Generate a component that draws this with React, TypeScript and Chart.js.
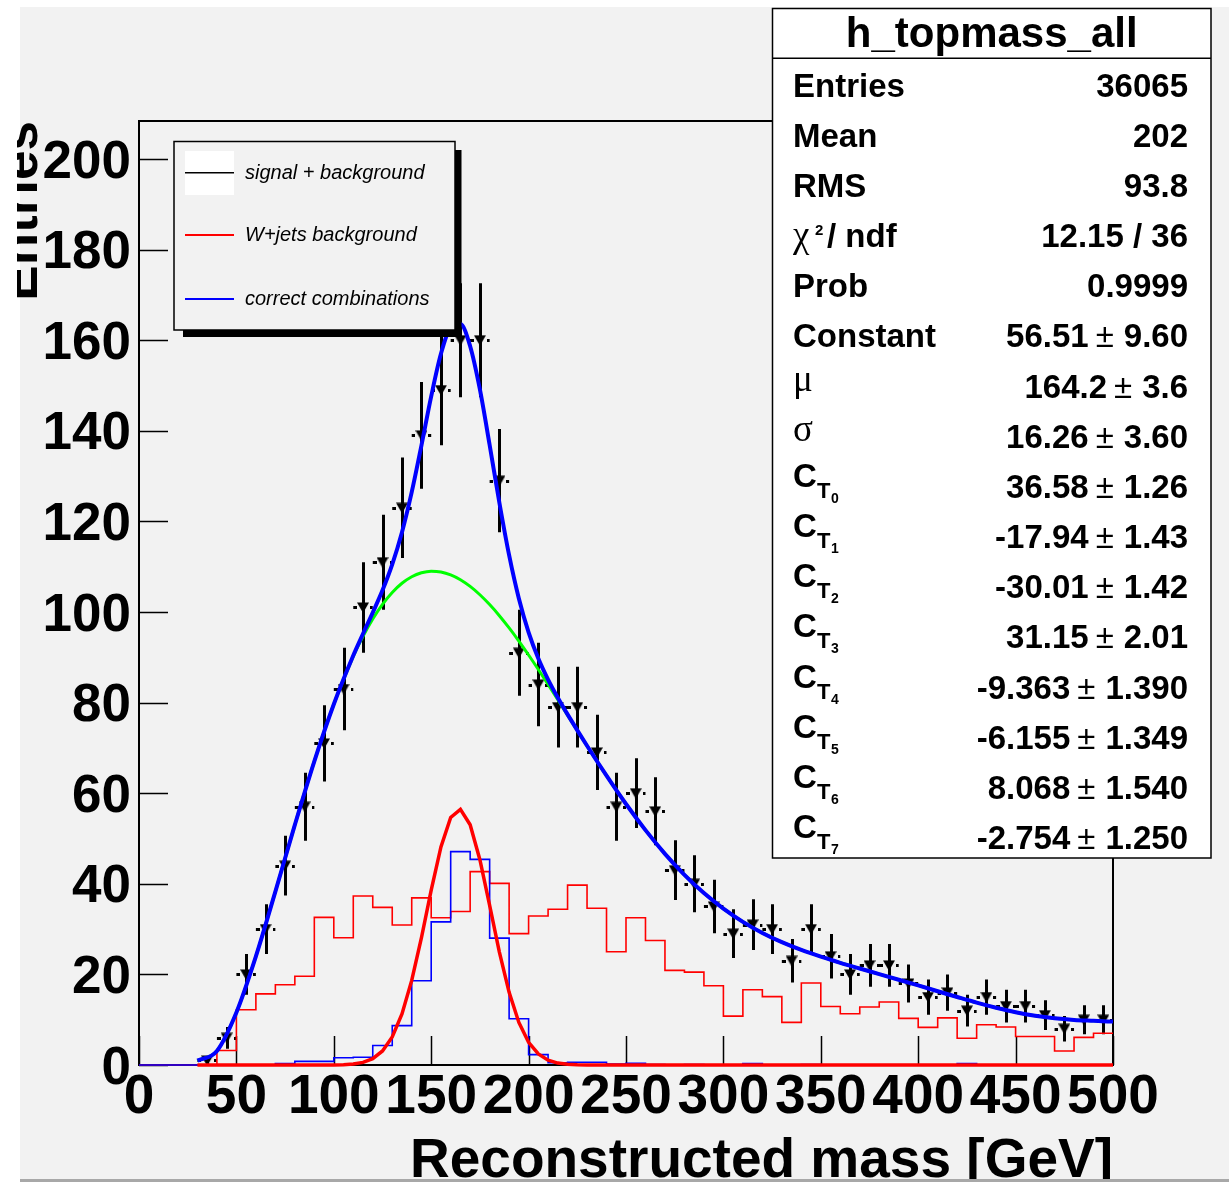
import React, { useEffect, useRef } from "react";
import { Chart, registerables } from "chart.js";

Chart.register(...registerables);

const CANVAS_W = 1229;
const CANVAS_H = 1182;
const PAD_COLOR = "#f2f2f2";

// ---------------- data ----------------
const binEdges = [
  0, 10, 20, 30, 40, 50, 60, 70, 80, 90, 100, 110, 120, 130, 140, 150, 160, 170, 180, 190,
  200, 210, 220, 230, 240, 250, 260, 270, 280, 290, 300, 310, 320, 330, 340, 350, 360, 370,
  380, 390, 400, 410, 420, 430, 440, 450, 460, 470, 480, 490, 500,
];

// W+jets background histogram (red)
const wjetsBackground = [
  0, 0, 0, 0, 3.2, 12.2, 15.7, 17.7, 19.6, 32.6,
  28.1, 37.3, 34.8, 30.9, 36.9, 32.5, 33.9, 42.7, 40.1, 29.0,
  32.9, 34.4, 39.7, 34.6, 25.0, 32.5, 27.5, 20.9, 20.5, 17.5,
  10.8, 16.6, 15.1, 9.4, 18.1, 12.9, 11.3, 12.8, 13.9, 10.3,
  8.3, 10.4, 5.9, 8.9, 8.4, 6.3, 6.3, 3.1, 6.1, 7.0,
];

// correct combinations histogram (blue)
const correctCombinations = [
  0, 0, 0, 0, 0, 0, 0, 0.3, 0.8, 0.8,
  1.6, 1.7, 4.3, 8.7, 18.6, 31.6, 47.1, 45.4, 28.0, 10.2,
  2.3, 0.5, 0.6, 0.6, 0.2, 0.4, 0.1, 0, 0.1, 0,
  0, 0.3, 0, 0, 0.1, 0, 0, 0, 0, 0,
  0, 0, 0.3, 0, 0, 0, 0, 0, 0, 0,
];

// signal + background data points
const dataBinCenters = [
  35, 45, 55, 65, 75, 85, 95, 105, 115, 125, 135, 145, 155, 165, 175, 185, 195, 205, 215, 225,
  235, 245, 255, 265, 275, 285, 295, 305, 315, 325, 335, 345, 355, 365, 375, 385, 395, 405,
  415, 425, 435, 445, 455, 465, 475, 485, 495,
];
const dataEntries = [
  1, 6, 20, 30, 44, 57, 71, 83, 101, 111, 123, 139, 149, 160, 160, 129, 91, 84, 79, 79,
  69, 57, 60, 56, 43, 40, 35, 29, 31, 30, 23, 30, 24, 20, 22, 22, 18, 15,
  16, 12, 15, 13, 13, 11, 8, 10, 10,
];
const dataErrors = [
  1.0, 2.4, 4.5, 5.5, 6.6, 7.5, 8.4, 9.1, 10.0, 10.5, 11.1, 11.8, 12.2, 12.6, 12.6, 11.4, 9.5, 9.2, 8.9, 8.9,
  8.3, 7.5, 7.7, 7.5, 6.6, 6.3, 5.9, 5.4, 5.6, 5.5, 4.8, 5.5, 4.9, 4.5, 4.7, 4.7, 4.2, 3.9,
  4.0, 3.5, 3.9, 3.6, 3.6, 3.3, 2.8, 3.2, 3.2,
];

// fit curves (total = blue, background = green)
const fitX = [
  30, 40, 50, 60, 70, 80, 90, 100, 110,
  115, 120, 125, 130, 135, 140, 145, 150, 155, 160, 165, 170, 175, 180, 185, 190, 195, 200, 205, 210, 215,
  220, 230, 240, 250, 260, 270, 280, 290, 300, 310, 320, 330, 340, 350, 360, 370, 380, 390, 400,
  410, 420, 430, 440, 450, 460, 470, 480, 490, 500,
];
const fitTotal = [
  0.97, 3.11, 11.6, 23.97, 38.27, 53.01, 67.05, 79.65, 90.41,
  95.2, 99.87, 104.78, 110.51, 117.61, 126.46, 136.81, 147.61, 157.0, 162.87, 163.58, 158.68, 149.13,
  136.88, 124.12, 112.54, 102.99, 95.52, 89.74, 85.08, 81.07,
  77.4, 70.47, 63.87, 57.62, 51.85, 46.62, 41.98, 37.95, 34.51, 31.6, 29.16, 27.12, 25.4, 23.91,
  22.56, 21.3, 20.07, 18.83, 17.57, 16.28, 15.01, 13.77, 12.64, 11.65, 10.86, 10.3, 9.95, 9.76, 9.58,
];
const fitBackground = [
  0.97, 3.11, 11.6, 23.97, 38.27, 53.01, 67.05, 79.62, 90.19,
  94.62, 98.46, 101.69, 104.32, 106.35, 107.79, 108.67, 109.02, 108.85, 108.21, 107.14, 105.65, 103.81,
  101.64, 99.19, 96.49, 93.59, 90.51, 87.31, 84.01, 80.64,
  77.24, 70.46, 63.87, 57.62, 51.85, 46.62, 41.98, 37.95, 34.51, 31.6, 29.16, 27.12, 25.4, 23.91,
  22.56, 21.3, 20.07, 18.83, 17.57, 16.28, 15.01, 13.77, 12.64, 11.65, 10.86, 10.3, 9.95, 9.76, 9.58,
];

// gaussian signal curve (red)
const gaussX = [
  30, 95, 100, 105, 110, 115, 120, 125, 130, 135, 140, 145, 150, 155, 160, 165, 170, 175, 180,
  185, 190, 195, 200, 205, 210, 215, 220, 225, 230, 240, 500,
];
const gaussSignal = [
  0, 0, 0.02, 0.07, 0.22, 0.58, 1.41, 3.09, 6.19, 11.26, 18.67, 28.14, 38.59, 48.15, 54.66, 56.44,
  53.03, 45.32, 35.24, 24.93, 16.05, 9.4, 5.01, 2.43, 1.07, 0.43, 0.16, 0.05, 0.01, 0, 0,
];

const legendLabels = ["signal + background", "W+jets background", "correct combinations"];
const legendColors = ["#000000", "#ff0000", "#0000ff"];

const statsTitle = "h_topmass_all";
const statLabels = [
  "Entries", "Mean", "RMS", "χ2 / ndf", "Prob", "Constant", "μ", "σ",
  "C_T0", "C_T1", "C_T2", "C_T3", "C_T4", "C_T5", "C_T6", "C_T7",
];
const statValues = [
  "36065", "202", "93.8", "12.15 / 36", "0.9999", "56.51 ± 9.60", "164.2 ± 3.6", "16.26 ± 3.60",
  "36.58 ± 1.26", "-17.94 ± 1.43", "-30.01 ± 1.42", "31.15 ± 2.01", "-9.363 ± 1.390",
  "-6.155 ± 1.349", "8.068 ± 1.540", "-2.754 ± 1.250",
];

const xAxisTitle = "Reconstructed mass [GeV]";
const yAxisTitle = "Entries";

// ---------------- helpers ----------------
const SANS = "'Liberation Sans', Arial, Helvetica, sans-serif";
const SERIF = "'Liberation Serif', 'Times New Roman', serif";

function histPoints(values: number[]) {
  const pts = values.map((v, i) => ({ x: binEdges[i], y: v }));
  pts.push({ x: binEdges[values.length], y: values[values.length - 1] });
  return pts;
}

function makeTriangle(): HTMLCanvasElement {
  const c = document.createElement("canvas");
  c.width = 12;
  c.height = 11;
  const g = c.getContext("2d")!;
  g.fillStyle = "#000";
  g.beginPath();
  g.moveTo(0, 0.5);
  g.lineTo(12, 0.5);
  g.lineTo(6, 11);
  g.closePath();
  g.fill();
  return c;
}

function drawStatLabel(ctx: CanvasRenderingContext2D, lab: string, x: number, b: number) {
  ctx.textAlign = "left";
  ctx.textBaseline = "alphabetic";
  if (lab.startsWith("χ")) {
    ctx.font = `37px ${SERIF}`;
    ctx.fillText("χ", x, b);
    ctx.font = `bold 15px ${SANS}`;
    ctx.fillText("2", x + 22, b - 12);
    ctx.font = `bold 33px ${SANS}`;
    ctx.fillText(lab.slice(3), x + 34, b);
  } else if (lab === "μ" || lab === "σ") {
    ctx.font = `37px ${SERIF}`;
    ctx.fillText(lab, x, b - 7);
  } else if (lab.startsWith("C_T")) {
    ctx.font = `bold 33px ${SANS}`;
    ctx.fillText("C", x, b - 11);
    ctx.font = `bold 22px ${SANS}`;
    ctx.fillText("T", x + 24, b);
    ctx.font = `bold 14px ${SANS}`;
    ctx.fillText(lab.slice(3), x + 38, b + 5);
  } else {
    ctx.font = `bold 33px ${SANS}`;
    ctx.fillText(lab, x, b);
  }
}

function drawStatValue(ctx: CanvasRenderingContext2D, val: string, right: number, b: number) {
  ctx.textAlign = "left";
  ctx.textBaseline = "alphabetic";
  if (val.includes("±")) {
    const [a, c] = val.split("±").map((s) => s.trim());
    ctx.font = `bold 33px ${SANS}`;
    const wc = ctx.measureText(c).width;
    ctx.fillText(c, right - wc, b);
    ctx.font = `33px ${SANS}`;
    const wpm = ctx.measureText("±").width;
    const pmX = right - wc - 10 - wpm;
    ctx.fillText("±", pmX, b);
    ctx.font = `bold 33px ${SANS}`;
    const wa = ctx.measureText(a).width;
    ctx.fillText(a, pmX - 7 - wa, b);
  } else {
    ctx.font = `bold 33px ${SANS}`;
    const w = ctx.measureText(val).width;
    ctx.fillText(val, right - w, b);
  }
}

const DATA_INDEX = 0;

const rootPlugin = {
  id: "rootStyle",
  beforeDraw(chart: any) {
    const ctx: CanvasRenderingContext2D = chart.ctx;
    ctx.save();
    ctx.fillStyle = "#ffffff";
    ctx.fillRect(0, 0, CANVAS_W, CANVAS_H);
    ctx.fillStyle = PAD_COLOR;
    ctx.fillRect(20, 7, CANVAS_W - 20, 1172);
    ctx.restore();
  },
  beforeDatasetsDraw(chart: any) {
    const ctx: CanvasRenderingContext2D = chart.ctx;
    const a = chart.chartArea;
    const xs = chart.scales.x;
    const ys = chart.scales.y;
    ctx.save();
    ctx.strokeStyle = "#000";
    ctx.lineWidth = 1.5;
    ctx.beginPath();
    ys.ticks.forEach((t: any) => {
      const y = Math.round(ys.getPixelForValue(t.value)) + 0.5;
      ctx.moveTo(a.left, y);
      ctx.lineTo(a.left + 29, y);
    });
    xs.ticks.forEach((t: any) => {
      const x = Math.round(xs.getPixelForValue(t.value)) + 0.5;
      ctx.moveTo(x, a.bottom);
      ctx.lineTo(x, a.bottom - 29);
    });
    ctx.stroke();
    ctx.lineWidth = 2;
    ctx.strokeRect(a.left, a.top, a.right - a.left, a.bottom - a.top);
    ctx.restore();
  },
  beforeDatasetDraw(chart: any, args: any) {
    if (args.index !== DATA_INDEX) return;
    const ctx: CanvasRenderingContext2D = chart.ctx;
    const xs = chart.scales.x;
    const ys = chart.scales.y;
    ctx.save();
    ctx.strokeStyle = "#000";
    ctx.lineWidth = 3;
    ctx.beginPath();
    dataBinCenters.forEach((xv, i) => {
      const v = dataEntries[i];
      const e = dataErrors[i];
      const px = Math.round(xs.getPixelForValue(xv)) + 0.5;
      const py = Math.round(ys.getPixelForValue(v)) + 0.5;
      ctx.moveTo(px, ys.getPixelForValue(v + e));
      ctx.lineTo(px, ys.getPixelForValue(Math.max(v - e, 0)));
      const xl = xs.getPixelForValue(xv - 5);
      const xr = xs.getPixelForValue(xv + 5);
      ctx.moveTo(xl, py);
      ctx.lineTo(px - 6.5, py);
      ctx.moveTo(px + 6.5, py);
      ctx.lineTo(xr, py);
    });
    ctx.stroke();
    ctx.restore();
  },
  afterDraw(chart: any) {
    const ctx: CanvasRenderingContext2D = chart.ctx;
    const a = chart.chartArea;
    ctx.save();

    // y axis title (clipped on the left like the original)
    ctx.save();
    ctx.beginPath();
    ctx.rect(17, 0, CANVAS_W - 17, CANVAS_H);
    ctx.clip();
    ctx.translate(37, a.top);
    ctx.rotate(-Math.PI / 2);
    ctx.fillStyle = "#000";
    ctx.font = `bold 53px ${SANS}`;
    ctx.textAlign = "right";
    ctx.textBaseline = "alphabetic";
    ctx.fillText(yAxisTitle, 0, 0);
    ctx.restore();

    // x axis title, clipped at the pad bottom
    ctx.save();
    ctx.beginPath();
    ctx.rect(0, 0, CANVAS_W, 1179);
    ctx.clip();
    ctx.fillStyle = "#000";
    ctx.font = `bold 55px ${SANS}`;
    ctx.textAlign = "right";
    ctx.textBaseline = "alphabetic";
    ctx.fillText(xAxisTitle, a.right, 1177);
    ctx.restore();

    // pad bottom border
    ctx.fillStyle = "#a8a8a8";
    ctx.fillRect(20, 1179, CANVAS_W - 20, 3);

    // legend
    ctx.fillStyle = "#000";
    ctx.fillRect(455, 150, 6.5, 187);
    ctx.fillRect(183, 330, 278.5, 7);
    ctx.fillStyle = PAD_COLOR;
    ctx.fillRect(174, 141.5, 281, 188.5);
    ctx.strokeStyle = "#000";
    ctx.lineWidth = 1.5;
    ctx.strokeRect(174, 141.5, 281, 188.5);
    const legendY = [172.7, 235, 299];
    legendLabels.forEach((lab, i) => {
      const ly = legendY[i];
      if (i === 0) {
        ctx.fillStyle = "#ffffff";
        ctx.fillRect(185, 151, 49, 44);
      }
      ctx.strokeStyle = legendColors[i];
      ctx.lineWidth = i === 0 ? 1.5 : 2;
      ctx.beginPath();
      ctx.moveTo(185, ly);
      ctx.lineTo(234, ly);
      ctx.stroke();
      ctx.fillStyle = "#000";
      ctx.font = `italic 20px ${SANS}`;
      ctx.textAlign = "left";
      ctx.textBaseline = "alphabetic";
      ctx.fillText(lab, 245, ly + 6);
    });

    // stats box
    const L = 772.5, T = 8.5, R = 1211, B = 858;
    ctx.fillStyle = "#ffffff";
    ctx.fillRect(L, T, R - L, B - T);
    ctx.strokeStyle = "#000";
    ctx.lineWidth = 1.5;
    ctx.strokeRect(L, T, R - L, B - T);
    ctx.beginPath();
    ctx.moveTo(L, 58.3);
    ctx.lineTo(R, 58.3);
    ctx.stroke();
    ctx.fillStyle = "#000";
    ctx.font = `bold 42px ${SANS}`;
    ctx.textAlign = "center";
    ctx.textBaseline = "alphabetic";
    ctx.fillText(statsTitle, (L + R) / 2, 46.7);
    statLabels.forEach((lab, k) => {
      const b = 96.7 + k * 50.15;
      drawStatLabel(ctx, lab, 793, b);
      drawStatValue(ctx, statValues[k], 1188, b);
    });

    ctx.restore();
  },
};

export default function App() {
  const canvasRef = useRef<HTMLCanvasElement | null>(null);

  useEffect(() => {
    const canvas = canvasRef.current;
    if (!canvas) return;
    const tri = makeTriangle();
    const chart = new Chart(canvas, {
      type: "line",
      data: {
        datasets: [
          {
            type: "scatter",
            label: "signal + background",
            data: dataBinCenters.map((x, i) => ({ x, y: dataEntries[i] })),
            pointStyle: tri as any,
            pointRadius: 6,
            showLine: false,
            order: 6,
            clip: false as any,
          } as any,
          {
            label: "total fit",
            data: fitX.map((x, i) => ({ x, y: fitTotal[i] })),
            borderColor: "#0000ff",
            borderWidth: 4,
            pointRadius: 0,
            cubicInterpolationMode: "monotone",
            fill: false,
            order: 0,
            clip: false as any,
          },
          {
            label: "background fit",
            data: fitX.map((x, i) => ({ x, y: fitBackground[i] })),
            borderColor: "#00ff00",
            borderWidth: 3,
            pointRadius: 0,
            cubicInterpolationMode: "monotone",
            fill: false,
            order: 1,
            clip: false as any,
          },
          {
            label: "signal gaussian",
            data: gaussX.map((x, i) => ({ x, y: gaussSignal[i] })),
            borderColor: "#ff0000",
            borderWidth: 3.5,
            pointRadius: 0,
            tension: 0,
            fill: false,
            order: 2,
            clip: false as any,
          },
          {
            label: "correct combinations",
            data: histPoints(correctCombinations),
            borderColor: "#0000ff",
            borderWidth: 1.6,
            pointRadius: 0,
            stepped: "before",
            fill: false,
            order: 3,
            clip: false as any,
          },
          {
            label: "W+jets background",
            data: histPoints(wjetsBackground),
            borderColor: "#ff0000",
            borderWidth: 1.6,
            pointRadius: 0,
            stepped: "before",
            fill: false,
            order: 4,
            clip: false as any,
          },
        ],
      },
      options: {
        animation: false,
        responsive: false,
        devicePixelRatio: 1,
        events: [],
        layout: { padding: { left: 0, top: 121, right: 116, bottom: 0 } },
        plugins: {
          legend: { display: false },
          tooltip: { enabled: false },
          title: { display: false },
        },
        scales: {
          x: {
            type: "linear",
            min: 0,
            max: 500,
            grid: { display: false, drawTicks: false },
            border: { display: false },
            ticks: {
              stepSize: 50,
              autoSkip: false,
              maxRotation: 0,
              minRotation: 0,
              padding: 0,
              color: "#000",
              font: { family: "Liberation Sans", size: 55, weight: "bold" },
            },
            afterFit: (s: any) => {
              s.height = 117;
            },
          },
          y: {
            type: "linear",
            min: 0,
            max: 208.4,
            grid: { display: false, drawTicks: false },
            border: { display: false },
            ticks: {
              stepSize: 20,
              includeBounds: false,
              autoSkip: false,
              padding: 8,
              labelOffset: 4,
              color: "#000",
              font: { family: "Liberation Sans", size: 53, weight: "bold" },
            },
            afterFit: (s: any) => {
              s.width = 139;
            },
          },
        },
      } as any,
      plugins: [rootPlugin as any],
    });
    return () => chart.destroy();
  }, []);

  return (
    <div style={{ position: "absolute", left: 0, top: 0, width: CANVAS_W, height: CANVAS_H }}>
      <canvas ref={canvasRef} width={CANVAS_W} height={CANVAS_H} style={{ width: CANVAS_W, height: CANVAS_H, display: "block" }} />
    </div>
  );
}
